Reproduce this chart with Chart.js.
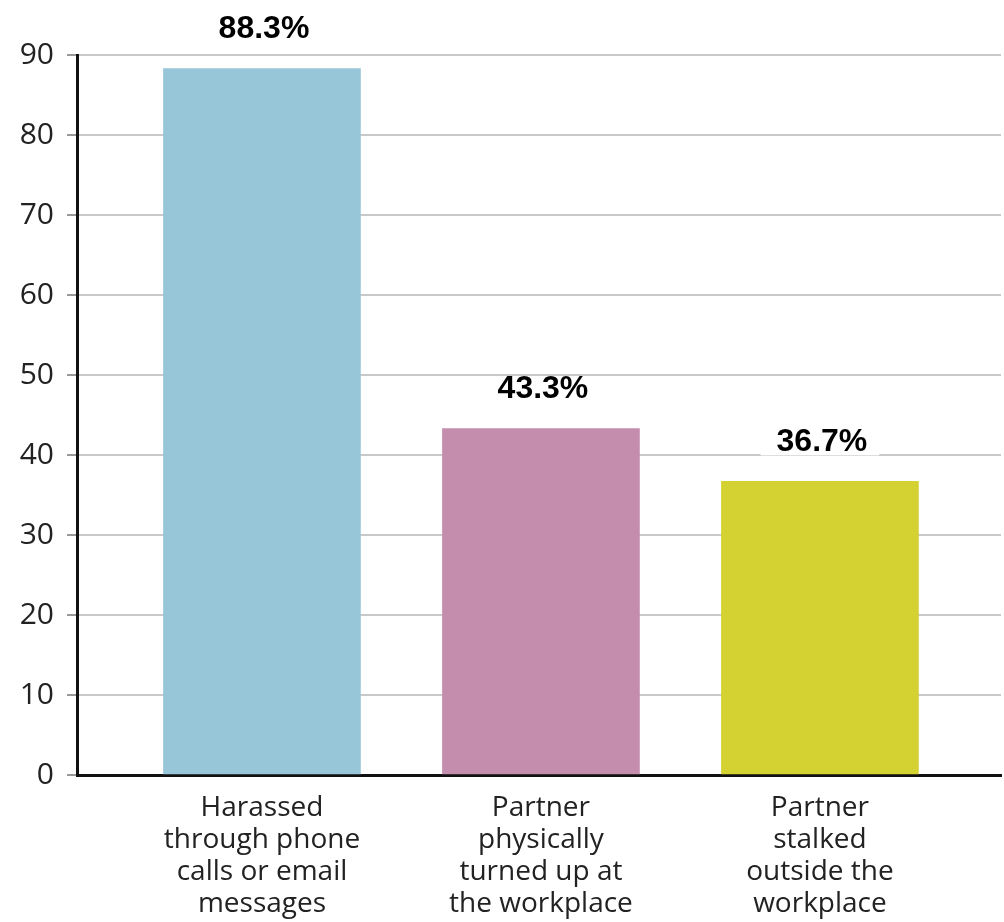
<!DOCTYPE html>
<html>
<head>
<meta charset="utf-8">
<script src="https://cdn.jsdelivr.net/npm/chart.js@4/dist/chart.umd.min.js"></script>
<style>
  body { margin: 0; background: #fff; }
  #wrap { width: 1004px; height: 922px; position: relative; }
</style>
</head>
<body>
<div id="wrap"><canvas id="bars"></canvas></div>
<script>
// categories shown under the bars (one array per label, one entry per line)
const categories = [
  ["Harassed", "through phone", "calls or email", "messages"],
  ["Partner", "physically", "turned up at", "the workplace"],
  ["Partner", "stalked", "outside the", "workplace"]
];
const values = [88.3, 43.3, 36.7];
const valueLabels = ["88.3%", "43.3%", "36.7%"];
const barColors = ["#97c6d9", "#c48cad", "#d4d232"];
const yTicks = [0, 10, 20, 30, 40, 50, 60, 70, 80, 90];

// labels above bars, with a white box behind them
const topLabels = {
  id: "topLabels",
  afterDatasetsDraw(chart) {
    const ctx = chart.ctx;
    const meta = chart.getDatasetMeta(0);
    ctx.save();
    ctx.font = "bold 32px 'Liberation Sans'";
    ctx.textAlign = "center";
    ctx.textBaseline = "middle";
    meta.data.forEach((bar, i) => {
      const txt = valueLabels[i];
      const w = ctx.measureText(txt).width;
      const cy = bar.y - 39;
      ctx.fillStyle = "#fff";
      ctx.fillRect(bar.x - w / 2 - 14, cy - 13, w + 28, 26);
      ctx.fillStyle = "#000";
      ctx.fillText(txt, bar.x + 2, cy);
    });
    ctx.restore();
  }
};

new Chart(document.getElementById("bars").getContext("2d"), {
  type: "bar",
  data: {
    datasets: [{
      data: values.map((v, i) => ({ x: i, y: v })),
      backgroundColor: barColors,
      barThickness: 197,
      borderWidth: 0
    }]
  },
  options: {
    responsive: true,
    maintainAspectRatio: false,
    animation: false,
    layout: { padding: { top: 55, right: 3, left: 0, bottom: 0 } },
    plugins: { legend: { display: false }, tooltip: { enabled: false } },
    scales: {
      x: {
        type: "linear",
        offset: false,
        min: -0.663,
        max: 2.649,
        afterFit: (s) => { s.height = 147; },
        afterBuildTicks: (s) => { s.ticks = categories.map((c, i) => ({ value: i })); },
        grid: { display: false, drawTicks: false, tickLength: 0 },
        border: { display: true, color: "#111", width: 3 },
        ticks: {
          padding: 17,
          color: "#222",
          font: { family: "'Open Sans'", size: 28, lineHeight: 1.14 },
          maxRotation: 0,
          callback: (v) => categories[v]
        }
      },
      y: {
        min: 0,
        max: 90,
        afterFit: (s) => { s.width = 77; },
        afterBuildTicks: (s) => { s.ticks = yTicks.map((v) => ({ value: v })); },
        grid: { color: "#c9c9c9", lineWidth: 2, tickLength: 10, tickColor: "#999" },
        border: { display: true, color: "#111", width: 3 },
        ticks: {
          padding: 13,
          color: "#222",
          font: { family: "'Open Sans'", size: 30 }
        }
      }
    }
  },
  plugins: [topLabels]
});
</script>
</body>
</html>
